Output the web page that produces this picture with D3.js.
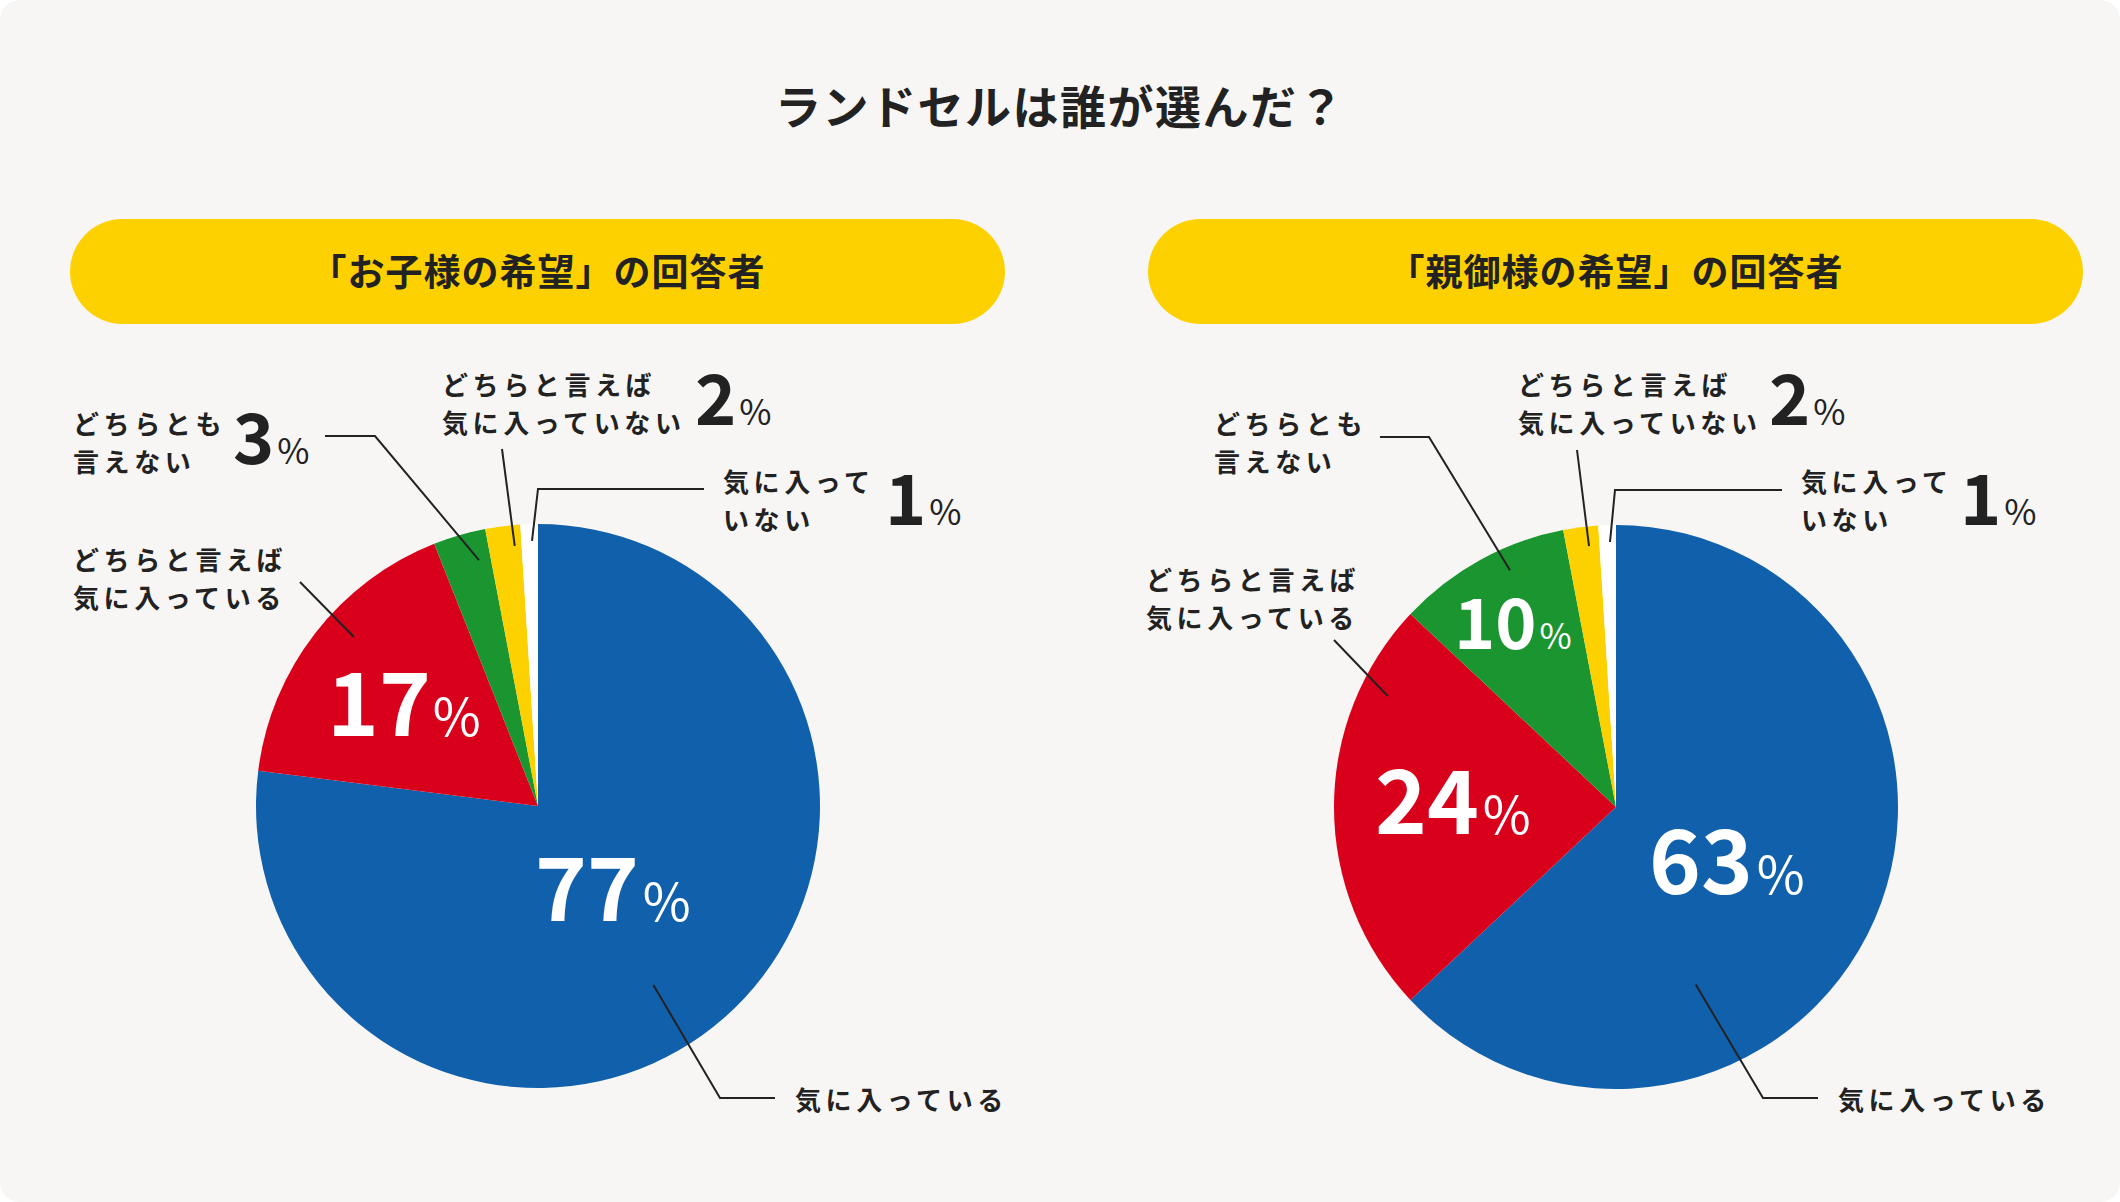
<!DOCTYPE html>
<html><head><meta charset="utf-8">
<script src="https://cdn.jsdelivr.net/npm/d3@7"></script>
<style>
html,body{margin:0;padding:0;background:#ffffff;}
svg{display:block;}
text{font-family:"Noto Sans CJK JP","Noto Sans",sans-serif;fill:#222222;}
</style></head>
<body>
<script>
// ---- data ----
const mainTitle = "ランドセルは誰が選んだ？";
const panelTitles = ["「お子様の希望」の回答者", "「親御様の希望」の回答者"];
const categories = ["気に入っている", "どちらと言えば気に入っている", "どちらとも言えない", "どちらと言えば気に入っていない", "気に入っていない"];
const categoryLines = [["気に入っている"], ["どちらと言えば", "気に入っている"], ["どちらとも", "言えない"], ["どちらと言えば", "気に入っていない"], ["気に入って", "いない"]];
const childValues = [77, 17, 3, 2, 1];
const parentValues = [63, 24, 10, 2, 1];
const sliceColors = ["#1160ab", "#d9001b", "#1a9530", "#fdd100", "#ffffff"];

// ---- layout (annotation placement, relative to each pie centre) ----
const W = 2120, H = 1202, R = 282;
const panels = [
  { cx: 538, cy: 806, pill: [70, 1005], values: childValues, title: panelTitles[0],
    ann: [
      { t: .531, rf: .755, pts: [[182, 292], [237, 292]], lab: [257, 292], pct: { mode: "in", x: -3, y: 115, big: 88, small: 52, gap: 4 } },
      { t: .578, rf: .886, pts: [[-238, -224]], lab: [-465, -248], pct: { mode: "in", x: -211, y: -70, big: 88, small: 52, gap: 2 } },
      { t: .75, rf: .897, pts: [[-163, -370], [-213, -370]], lab: [-465, -384], pct: { mode: "out", x: -305, y: -342, big: 70, small: 35, gap: 3 } },
      { t: .79, rf: .926, pts: [[-36, -357]], lab: [-96, -423], pct: { mode: "out", x: 157, y: -381, big: 70, small: 35, gap: 3 } },
      { t: .64, rf: .94, pts: [[0, -317], [166, -317]], lab: [185, -326], pct: { mode: "out", x: 347, y: -281, big: 70, small: 35, gap: 3 } }
    ] },
  { cx: 1616, cy: 807, pill: [1148, 2083], values: parentValues, title: panelTitles[1],
    ann: [
      { t: .687, rf: .69, pts: [[147, 291], [202, 291]], lab: [222, 291], pct: { mode: "in", x: 33, y: 87, big: 88, small: 52, gap: 4 } },
      { t: .80, rf: .90, pts: [[-282, -167]], lab: [-470, -229], pct: { mode: "in", x: -241, y: 27, big: 88, small: 52, gap: 4 } },
      { t: .63, rf: .92, pts: [[-187, -370], [-236, -370]], lab: [-402, -385], pct: { mode: "in", x: -162, y: -158, big: 70, small: 35, gap: 3 } },
      { t: .68, rf: .93, pts: [[-39, -357]], lab: [-98, -424], pct: { mode: "out", x: 153, y: -382, big: 70, small: 35, gap: 3 } },
      { t: .64, rf: .94, pts: [[-1, -317], [166, -317]], lab: [185, -327], pct: { mode: "out", x: 344, y: -282, big: 70, small: 35, gap: 3 } }
    ] }
];

const svg = d3.select("body").append("svg").attr("width", W).attr("height", H);
svg.append("rect").attr("x", 0).attr("y", 0).attr("width", W).attr("height", H).attr("rx", 20).attr("fill", "#f7f6f4");

svg.append("text").attr("x", W / 2).attr("y", 104).attr("text-anchor", "middle").attr("dominant-baseline", "central")
  .attr("font-size", 46).attr("font-weight", 700).attr("letter-spacing", 1.5).text(mainTitle);

const pie = d3.pie().sort(null).value(d => d);
const arc = d3.arc().innerRadius(0).outerRadius(R);

panels.forEach(p => {
  // pill header
  const ph = 105, py = 219;
  svg.append("rect").attr("x", p.pill[0]).attr("y", py).attr("width", p.pill[1] - p.pill[0]).attr("height", ph)
    .attr("rx", ph / 2).attr("fill", "#fdd100");
  svg.append("text").attr("x", (p.pill[0] + p.pill[1]) / 2).attr("y", py + ph / 2 - 2).attr("text-anchor", "middle")
    .attr("dominant-baseline", "central").attr("font-size", 37).attr("font-weight", 700).attr("letter-spacing", 1).text(p.title);

  const g = svg.append("g").attr("transform", `translate(${p.cx},${p.cy})`);
  const arcs = pie(p.values);
  g.selectAll("path.slice").data(arcs).enter().append("path").attr("class", "slice")
    .attr("d", arc).attr("fill", (d, i) => sliceColors[i]);

  arcs.forEach((d, i) => {
    const a = p.ann[i];
    const ang = d.startAngle + a.t * (d.endAngle - d.startAngle);
    const r = a.rf * R;
    const start = [Math.sin(ang) * r, -Math.cos(ang) * r];
    const pts = [start].concat(a.pts);
    g.append("path").attr("d", d3.line()(pts)).attr("fill", "none").attr("stroke", "#222222").attr("stroke-width", 2);

    const lines = categoryLines[i];
    const t = g.append("text").attr("font-size", 26).attr("font-weight", 700).attr("letter-spacing", 4.6)
      .attr("dominant-baseline", "central");
    lines.forEach((ln, k) => {
      t.append("tspan").attr("x", a.lab[0]).attr("y", a.lab[1] + k * 37.5).text(ln);
    });

    const pc = a.pct;
    const col = pc.mode === "in" ? "#ffffff" : "#222222";
    const tt = g.append("text").attr("x", pc.x).attr("y", pc.y).style("fill", col);
    tt.append("tspan").attr("font-size", pc.big).attr("font-weight", 700).text(p.values[i]);
    tt.append("tspan").attr("dx", pc.gap).attr("font-size", pc.small).attr("font-weight", 400).text("%");
  });
});
</script>
</body></html>
